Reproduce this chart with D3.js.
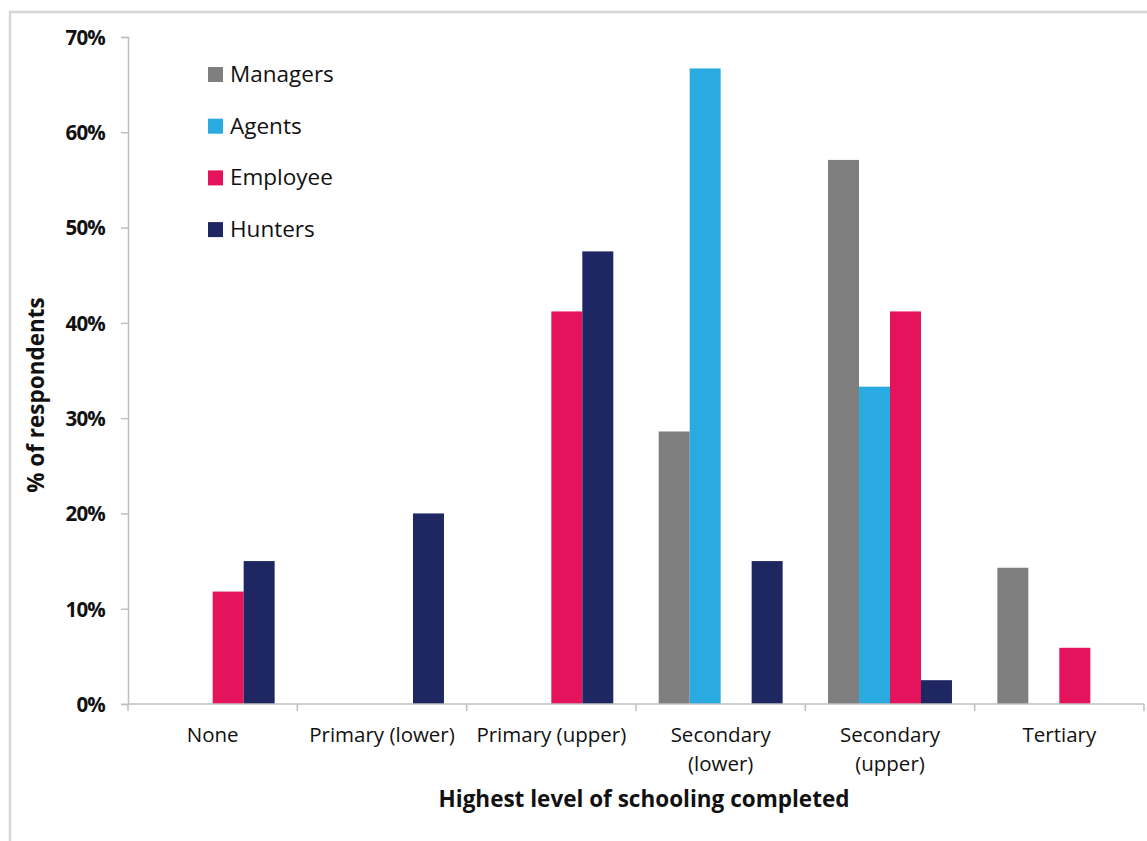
<!DOCTYPE html>
<html>
<head>
<meta charset="utf-8">
<script src="https://cdn.jsdelivr.net/npm/d3@7"></script>
<style>
  html, body { margin: 0; padding: 0; background: #fff; }
  svg { display: block; font-family: "Open Sans", "Liberation Sans", sans-serif; }
</style>
</head>
<body>
<svg id="chart" width="1147" height="841"></svg>
<script>
// Highest level of schooling completed, share of respondents per group
const categories = ["None", "Primary (lower)", "Primary (upper)", "Secondary (lower)", "Secondary (upper)", "Tertiary"];
const categoryLines = [["None"], ["Primary (lower)"], ["Primary (upper)"], ["Secondary", "(lower)"], ["Secondary", "(upper)"], ["Tertiary"]];
const seriesNames = ["Managers", "Agents", "Employee", "Hunters"];
const managers = [0, 0, 0, 0.286, 0.571, 0.143];
const agents   = [0, 0, 0, 0.667, 0.333, 0];
const employee = [0.118, 0, 0.412, 0, 0.412, 0.059];
const hunters  = [0.15, 0.20, 0.475, 0.15, 0.025, 0];
const yTicks = [0, 0.1, 0.2, 0.3, 0.4, 0.5, 0.6, 0.7];
const seriesColors = ["#7f7f7f", "#29abe2", "#e5135b", "#1e2761"];

const seriesValues = [managers, agents, employee, hunters];

const svg = d3.select("#chart");

// outer frame
svg.append("rect")
  .attr("x", 10).attr("y", 12)
  .attr("width", 1160).attr("height", 860)
  .attr("fill", "none").attr("stroke", "#d6d6d6").attr("stroke-width", 2.5);

const plot = { left: 128, right: 1144, top: 37, bottom: 704 };

const x = d3.scaleBand()
  .domain(categories)
  .range([plot.left, plot.right])
  .paddingInner(0.268)
  .paddingOuter(0.134);

const xs = d3.scaleBand()
  .domain(seriesNames)
  .range([0, x.bandwidth()]);

const y = d3.scaleLinear()
  .domain([0, 0.7])
  .range([plot.bottom, plot.top]);

const color = d3.scaleOrdinal().domain(seriesNames).range(seriesColors);

// bars
const groups = svg.append("g").selectAll("g")
  .data(categories)
  .join("g")
  .attr("transform", d => `translate(${x(d)},0)`);

groups.selectAll("rect")
  .data((c, i) => seriesNames.map((s, j) => ({ s, v: seriesValues[j][i] })))
  .join("rect")
  .filter(d => d.v > 0)
  .attr("x", d => xs(d.s))
  .attr("width", xs.bandwidth())
  .attr("y", d => y(d.v))
  .attr("height", d => y(0) - y(d.v))
  .attr("fill", d => color(d.s));

const axisColor = "#bfbfbf";

// y axis
const yAxis = svg.append("g")
  .attr("transform", `translate(${plot.left},0)`)
  .call(d3.axisLeft(y).tickValues(yTicks).tickFormat(d3.format(".0%")).tickSize(7).tickPadding(16));
yAxis.attr("font-family", null).attr("font-size", null);
yAxis.select(".domain").attr("stroke", axisColor).attr("stroke-width", 1.5);
yAxis.selectAll(".tick line").attr("stroke", axisColor).attr("stroke-width", 1.5);
yAxis.selectAll(".tick text")
  .attr("fill", "#111")
  .attr("dy", "0.36em")
  .style("font-family", "'Open Sans', sans-serif")
  .style("font-size", "20.5px")
  .style("font-weight", "700")
  .style("letter-spacing", "-0.8px");

// x axis: baseline with boundary ticks
const xAxis = svg.append("g");
xAxis.append("line")
  .attr("x1", plot.left).attr("x2", plot.right)
  .attr("y1", plot.bottom).attr("y2", plot.bottom)
  .attr("stroke", axisColor).attr("stroke-width", 1.5);
const boundaries = categories.map(c => x(c) - x.step() * x.paddingInner() / 2).concat([plot.right]);
xAxis.selectAll("line.b")
  .data(boundaries)
  .join("line")
  .attr("class", "b")
  .attr("x1", d => d).attr("x2", d => d)
  .attr("y1", plot.bottom).attr("y2", plot.bottom + 7)
  .attr("stroke", axisColor).attr("stroke-width", 1.5);

// category labels
const catLabels = svg.append("g").selectAll("text")
  .data(categories)
  .join("text")
  .attr("x", d => x(d) + x.bandwidth() / 2)
  .attr("y", 742)
  .attr("text-anchor", "middle")
  .attr("fill", "#111")
  .style("font-size", "20.5px");
catLabels.selectAll("tspan")
  .data((d, i) => categoryLines[i])
  .join("tspan")
  .attr("x", function () { return d3.select(this.parentNode).attr("x"); })
  .attr("dy", (d, i) => i === 0 ? 0 : 29)
  .text(d => d);

// axis titles
svg.append("text")
  .attr("x", 644).attr("y", 807)
  .attr("text-anchor", "middle")
  .attr("fill", "#111")
  .style("font-size", "22.5px").style("font-weight", "700")
  .text("Highest level of schooling completed");

svg.append("text")
  .attr("transform", "translate(44,395) rotate(-90)")
  .attr("text-anchor", "middle")
  .attr("fill", "#111")
  .style("font-size", "22.5px").style("font-weight", "700")
  .text("% of respondents");

// legend
const legend = svg.append("g").selectAll("g")
  .data(seriesNames)
  .join("g")
  .attr("transform", (d, i) => `translate(208,${74 + i * 51.7})`);
legend.append("rect")
  .attr("x", 0).attr("y", -7)
  .attr("width", 15).attr("height", 15)
  .attr("fill", d => color(d));
legend.append("text")
  .attr("x", 22).attr("y", 8)
  .attr("fill", "#111")
  .style("font-size", "22.5px")
  .text(d => d);
</script>
</body>
</html>
